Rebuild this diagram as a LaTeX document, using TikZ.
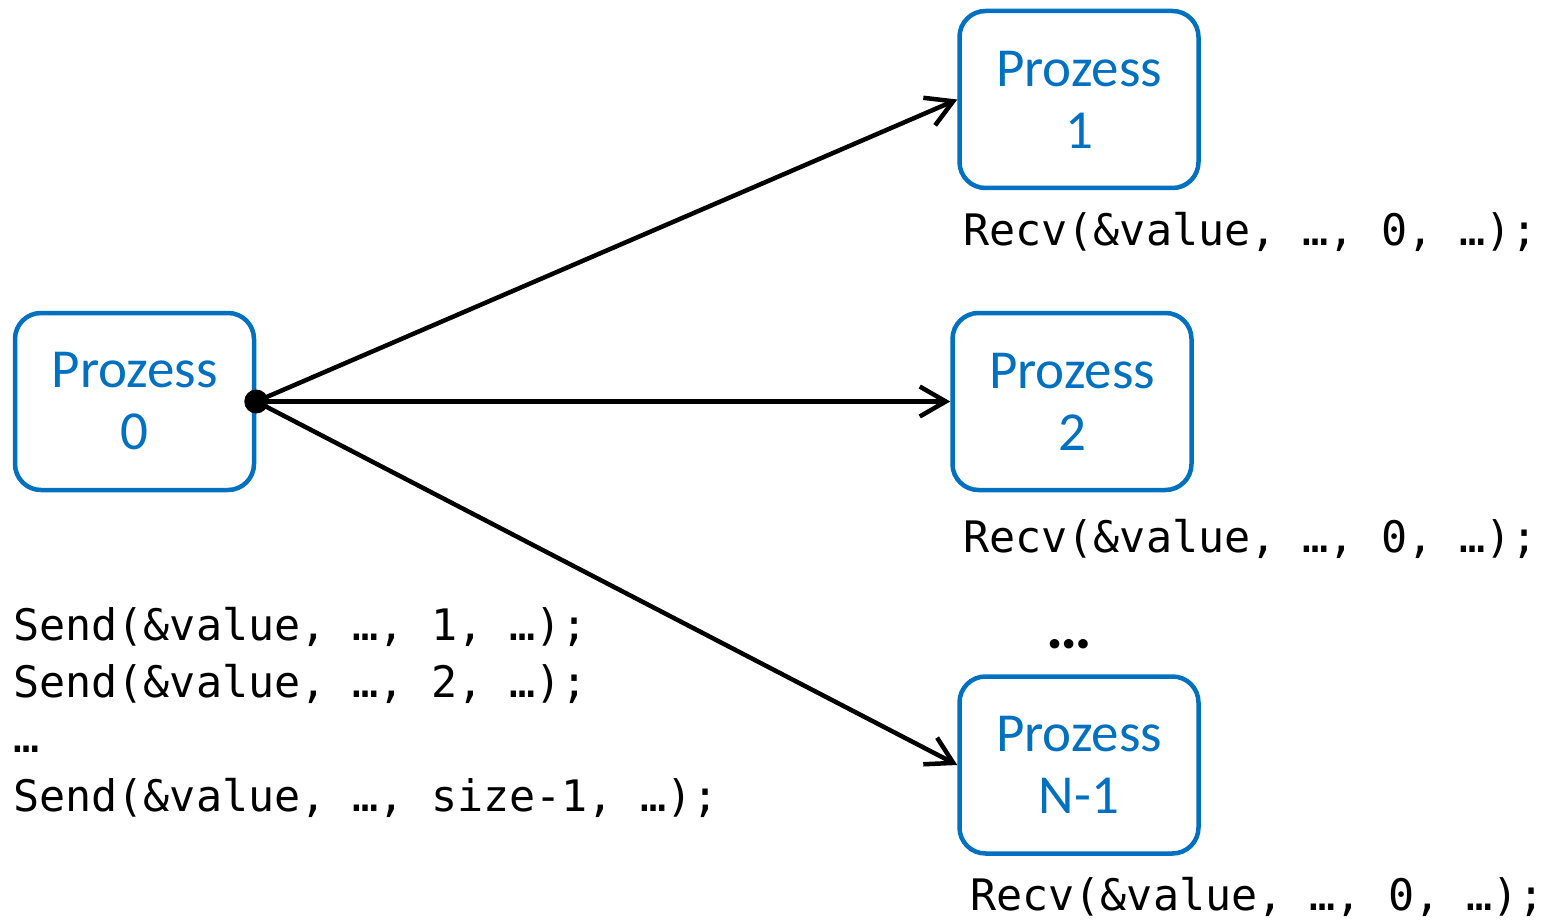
\documentclass[tikz,border=0pt]{standalone}
\usepackage{fontspec}
\setmainfont{Carlito}
\setmonofont{DejaVu Sans Mono}
\usetikzlibrary{arrows.meta, positioning}
\definecolor{procblue}{HTML}{0070C0}

\begin{document}
\begin{tikzpicture}[x=1pt, y=-1pt,
  proc/.style={draw=procblue, text=procblue, line width=4.5pt, rounded corners=26pt,
    minimum width=239pt, minimum height=177pt, inner sep=0pt, align=center,
    font=\fontsize{55}{62}\selectfont},
  code/.style={anchor=base west, inner sep=0pt, font=\ttfamily\fontsize{43.4}{57}\selectfont},
  arr/.style={-{Straight Barb[length=26pt, width=30pt]}, line width=4.5pt},
]
  \useasboundingbox (0,0) rectangle (1551,920);

  % processes
  \node[proc] (p0) at (134.5,401.5) {Prozess\\0};
  \node[proc] (p1) at (1079,99.5) {Prozess\\1};
  \node[proc] (p2) at (1072,401.5) {Prozess\\2};
  \node[proc] (pn) at (1079,765) {Prozess\\N-1};
  \node[anchor=base, font=\bfseries\fontsize{64}{62}\selectfont] (more) at (1069,648) {…};

  % sends from process 0
  \coordinate (src) at (p0.east);
  \draw[arr] (src) -- (p1.west);
  \draw[arr] (src) -- (p2.west);
  \draw[arr] (src) -- (pn.west);
  \fill (src) circle (12pt);

  % receiver calls
  \node[code] (recv1) at (963,246) {Recv(\&value, …, 0, …);};
  \node[code] (recv2) at (963,552) {Recv(\&value, …, 0, …);};
  \node[code] (recvn) at (970,910) {Recv(\&value, …, 0, …);};

  % sender calls
  \node[code] (send1) at (13,640) {Send(\&value, …, 1, …);};
  \node[code] (send2) at (13,697) {Send(\&value, …, 2, …);};
  \node[code] (send3) at (13,752) {…};
  \node[code] (sendn) at (13,811) {Send(\&value, …, size-1, …);};
\end{tikzpicture}
\end{document}
